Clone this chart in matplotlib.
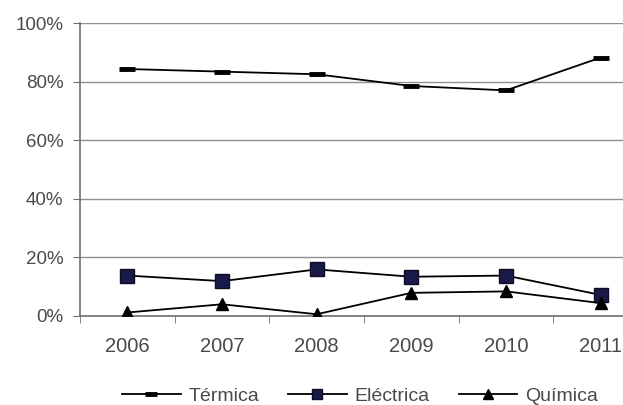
import matplotlib
matplotlib.use("Agg")
import matplotlib.pyplot as plt
from matplotlib.ticker import FixedLocator, FuncFormatter

years = ["2006", "2007", "2008", "2009", "2010", "2011"]
termica = [84.3, 83.4, 82.5, 78.5, 77.0, 88.2]
electrica = [13.8, 11.9, 15.9, 13.4, 13.8, 7.2]
quimica = [1.2, 4.0, 0.6, 7.9, 8.4, 4.4]
yticks = [0, 20, 40, 60, 80, 100]

plt.rcParams['font.family'] = ['Liberation Sans', 'DejaVu Sans']

fig = plt.figure(figsize=(6.23, 4.05), dpi=100)
ax = fig.add_axes([80/623, 89/405, 568/623, 293/405])

x = list(range(len(years)))
l1, = ax.plot(x, termica, color='black', lw=1.3, marker='_', markersize=11,
              markeredgewidth=3.5, label='Térmica', zorder=3)
l2, = ax.plot(x, electrica, color='black', lw=1.3, marker='s', markersize=10.5,
              markerfacecolor='#1a1a4a', markeredgecolor='#0c0c25', label='Eléctrica', zorder=3)
l3, = ax.plot(x, quimica, color='black', lw=1.3, marker='^', markersize=9,
              markerfacecolor='black', markeredgecolor='black', label='Química', zorder=3)

ax.set_xlim(-0.5, len(years) - 0.5)
ax.set_ylim(0, 100)
ax.set_yticks(yticks)
ax.yaxis.set_major_formatter(FuncFormatter(lambda v, p: f"{int(v)}%"))
ax.set_xticks(x)
ax.set_xticklabels(years)
ax.xaxis.set_minor_locator(FixedLocator([i + 0.5 for i in range(-1, len(years))]))

ax.grid(axis='y', color='#909090', lw=1.0)
ax.set_axisbelow(True)
for s in ['top', 'right']:
    ax.spines[s].set_visible(False)
ax.spines['left'].set_color('#707070')
ax.spines['bottom'].set_color('#707070')
ax.spines['left'].set_linewidth(1.2)
ax.spines['bottom'].set_linewidth(1.2)

ax.tick_params(axis='y', length=5, color='#707070', labelsize=13.5, labelcolor='#4a4a4a', pad=7)
ax.tick_params(axis='x', which='major', length=0, labelsize=14.5, labelcolor='#4a4a4a', pad=15)
ax.tick_params(axis='x', which='minor', length=5, color='#707070')

leg = fig.legend(handles=[l1, l2, l3], loc='center', bbox_to_anchor=(360/623, 9/405),
                 ncol=3, frameon=False, fontsize=14, handlelength=3.0,
                 columnspacing=1.5, handletextpad=0.4, markerscale=0.75)
for t in leg.get_texts():
    t.set_color('#4a4a4a')

fig.savefig("out.png", dpi=100, facecolor='white')
